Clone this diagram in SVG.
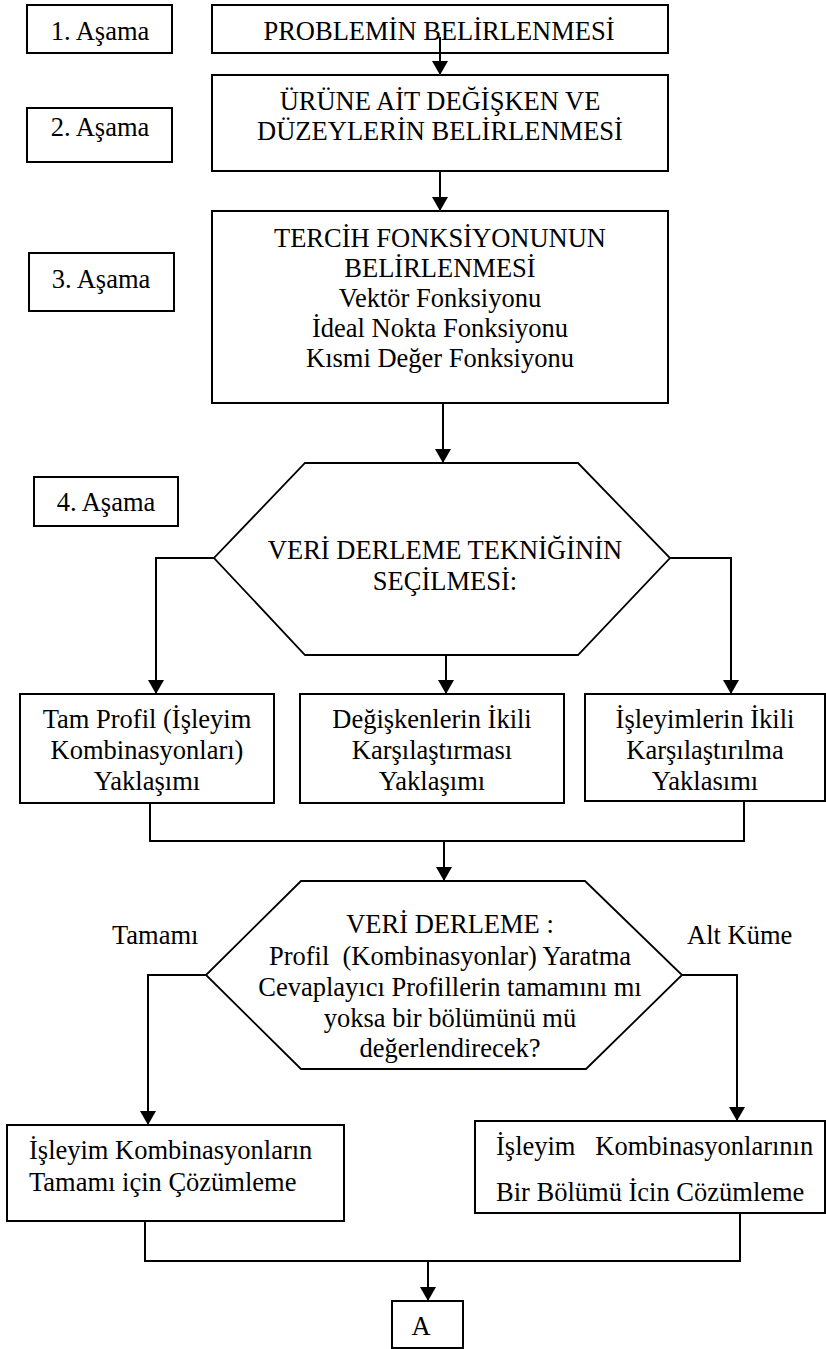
<svg xmlns="http://www.w3.org/2000/svg" width="826" height="1349" viewBox="0 0 826 1349" font-family="'Liberation Serif', 'Times New Roman', 'DejaVu Serif', serif">
<style>
.b{fill:#fff;stroke:#000;stroke-width:2}
.h{fill:#fff;stroke:#000;stroke-width:1.8}
text{font-family:'Liberation Serif','Times New Roman','DejaVu Serif',serif;font-size:26.5px;fill:#000;white-space:pre}
.m{text-anchor:middle}
.c{fill:none;stroke:#000;stroke-width:2}
</style>
<defs>
<marker id="ar" markerUnits="userSpaceOnUse" markerWidth="14" markerHeight="16" refX="14" refY="8" orient="auto">
<path d="M0,0 L14,8 L0,16 z" fill="#000"/>
</marker>
</defs>
<rect width="826" height="1349" fill="#fff"/>
<g id="stage1"><rect class="b" x="27" y="5" width="145" height="48"/><text class="m" x="100" y="40">1. Aşama</text></g>
<g id="problem"><rect class="b" x="212" y="5" width="456" height="48"/><text class="m" x="439" y="40">PROBLEMİN BELİRLENMESİ</text></g>
<g id="stage2"><rect class="b" x="27" y="108" width="145" height="54"/><text class="m" x="100" y="136">2. Aşama</text></g>
<g id="variables"><rect class="b" x="212" y="75" width="456" height="96"/><text class="m" x="440" y="110">ÜRÜNE AİT DEĞİŞKEN VE</text><text class="m" x="440" y="140">DÜZEYLERİN BELİRLENMESİ</text></g>
<g id="stage3"><rect class="b" x="29" y="253" width="145" height="58"/><text class="m" x="101" y="288">3. Aşama</text></g>
<g id="preference"><rect class="b" x="212" y="211" width="456" height="192"/>
<text class="m" x="440" y="247">TERCİH FONKSİYONUNUN</text>
<text class="m" x="440" y="277">BELİRLENMESİ</text>
<text class="m" x="440" y="307">Vektör Fonksiyonu</text>
<text class="m" x="440" y="337">İdeal Nokta Fonksiyonu</text>
<text class="m" x="440" y="367">Kısmi Değer Fonksiyonu</text></g>
<g id="stage4"><rect class="b" x="34" y="477" width="144" height="49"/><text class="m" x="106" y="511">4. Aşama</text></g>
<g id="technique"><polygon class="h" points="305,463 578,463 670,558 578,655 305,655 214,558"/>
<text class="m" x="445" y="559">VERİ DERLEME TEKNİĞİNİN</text>
<text class="m" x="445" y="590">SEÇİLMESİ:</text></g>
<g id="fullprofile"><rect class="b" x="20" y="694" width="254" height="109"/>
<text class="m" x="147" y="728">Tam Profil (İşleyim</text>
<text class="m" x="147" y="759">Kombinasyonları)</text>
<text class="m" x="147" y="790">Yaklaşımı</text></g>
<g id="pairvars"><rect class="b" x="300" y="694" width="264" height="109"/>
<text class="m" x="432" y="728">Değişkenlerin İkili</text>
<text class="m" x="432" y="759">Karşılaştırması</text>
<text class="m" x="432" y="790">Yaklaşımı</text></g>
<g id="pairfuncs"><rect class="b" x="585" y="694" width="240" height="107"/>
<text class="m" x="705" y="728">İşleyimlerin İkili</text>
<text class="m" x="705" y="759">Karşılaştırılma</text>
<text class="m" x="705" y="790">Yaklasımı</text></g>
<g id="collection"><polygon class="h" points="301,881 585,881 682,975 586,1069 301,1069 206,975"/>
<text class="m" x="450" y="933">VERİ DERLEME :</text>
<text class="m" x="450" y="965">Profil  (Kombinasyonlar) Yaratma</text>
<text class="m" x="450" y="996">Cevaplayıcı Profillerin tamamını mı</text>
<text class="m" x="450" y="1027">yoksa bir bölümünü mü</text>
<text class="m" x="450" y="1057">değerlendirecek?</text></g>
<g id="all"><rect class="b" x="7" y="1125" width="337" height="96"/>
<text x="29" y="1159">İşleyim Kombinasyonların</text>
<text x="29" y="1191">Tamamı için Çözümleme</text></g>
<g id="subset"><rect class="b" x="475" y="1121" width="350" height="92"/>
<text x="496" y="1155">İşleyim   Kombinasyonlarının</text>
<text x="496" y="1201">Bir Bölümü İcin Cözümleme</text></g>
<g id="a"><rect class="b" x="392" y="1301" width="71" height="47"/><text class="m" x="421" y="1335">A</text></g>
<g id="connectors">
<path class="c" d="M440,37 V75" marker-end="url(#ar)"/>
<path class="c" d="M440,171 V211" marker-end="url(#ar)"/>
<path class="c" d="M443,403 V463" marker-end="url(#ar)"/>
<path class="c" d="M214,558 H156 V694" marker-end="url(#ar)"/>
<path class="c" d="M446,655 V694" marker-end="url(#ar)"/>
<path class="c" d="M670,558 H731 V694" marker-end="url(#ar)"/>
<path class="c" d="M150,803 V841 H744 V801"/>
<path class="c" d="M444,841 V881" marker-end="url(#ar)"/>
<path class="c" d="M206,975 H148 V1125" marker-end="url(#ar)"/>
<path class="c" d="M682,975 H737 V1121" marker-end="url(#ar)"/>
<path class="c" d="M145,1221 V1261 H740 V1213"/>
<path class="c" d="M428,1261 V1301" marker-end="url(#ar)"/>
</g>
<g id="labels">
<text x="112" y="944">Tamamı</text>
<text x="687" y="944">Alt Küme</text>
</g>
</svg>
